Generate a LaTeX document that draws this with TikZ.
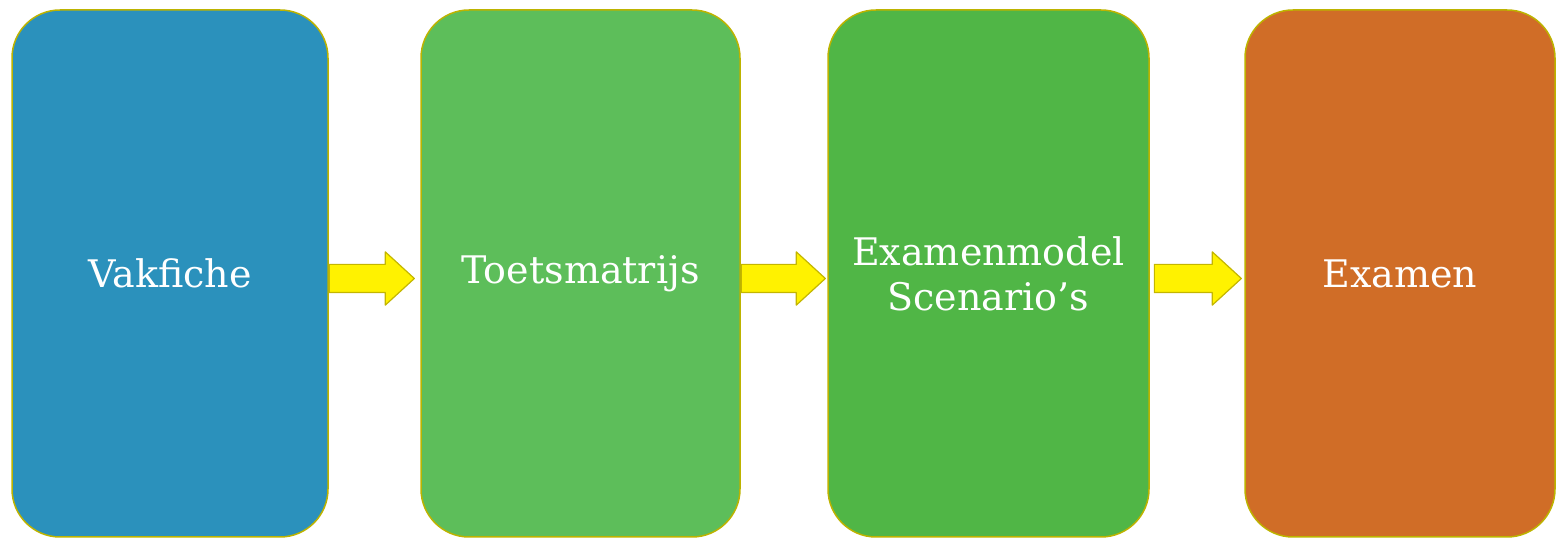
\documentclass[tikz,border=0pt]{standalone}
\usepackage{fontspec}
\setmainfont{DejaVu Serif}
\usetikzlibrary{shapes.arrows}
\definecolor{vakblauw}{HTML}{2B91BC}
\definecolor{lichtgroen}{HTML}{5DBE5A}
\definecolor{donkergroen}{HTML}{50B646}
\definecolor{oranje}{HTML}{D06D27}
\definecolor{rand}{HTML}{BDB300}
\definecolor{pijlgeel}{HTML}{FFF200}
\definecolor{pijlrand}{HTML}{C4B600}
\begin{document}
\begin{tikzpicture}[x=1pt, y=1pt, line join=round,
	blok/.style={draw=rand, line width=1.5pt, rounded corners=48pt, text=white, inner sep=0pt,
		align=center, font=\fontsize{38}{45}\selectfont, minimum height=527},
	pijl/.style={single arrow, draw=pijlrand, fill=pijlgeel, line width=1.2pt, anchor=tail,
		inner xsep=0pt, inner ysep=13.5pt, single arrow head extend=12.5pt, single arrow tip angle=85}]
		\useasboundingbox (0,0) rectangle (1556,538);
		\path
		(170,264.5) coordinate (V)
		(580.5,264.5) coordinate (T)
		(988.5,264.5) coordinate (M)
		(1400,264.5) coordinate (E);
		\node[blok, fill=vakblauw, minimum width=316] (vak) at (V) {Vakfiche};
		\node[blok, fill=lichtgroen, minimum width=319] (toets) at (T) {Toetsmatrijs};
		\node[blok, fill=donkergroen, minimum width=321] (model) at (M) {Examenmodel\\Scenario’s};
		\node[blok, fill=oranje, minimum width=310] (examen) at (E) {Examen};
		\foreach \a/\l/\s [count=\i] in {vak/85/0, toets/84/0, model/87/4}
		\node[pijl, minimum height=\l] (pijl\i) at ([xshift=\s, yshift=-5]\a.east) {};
		
	\end{tikzpicture}
\end{document}
